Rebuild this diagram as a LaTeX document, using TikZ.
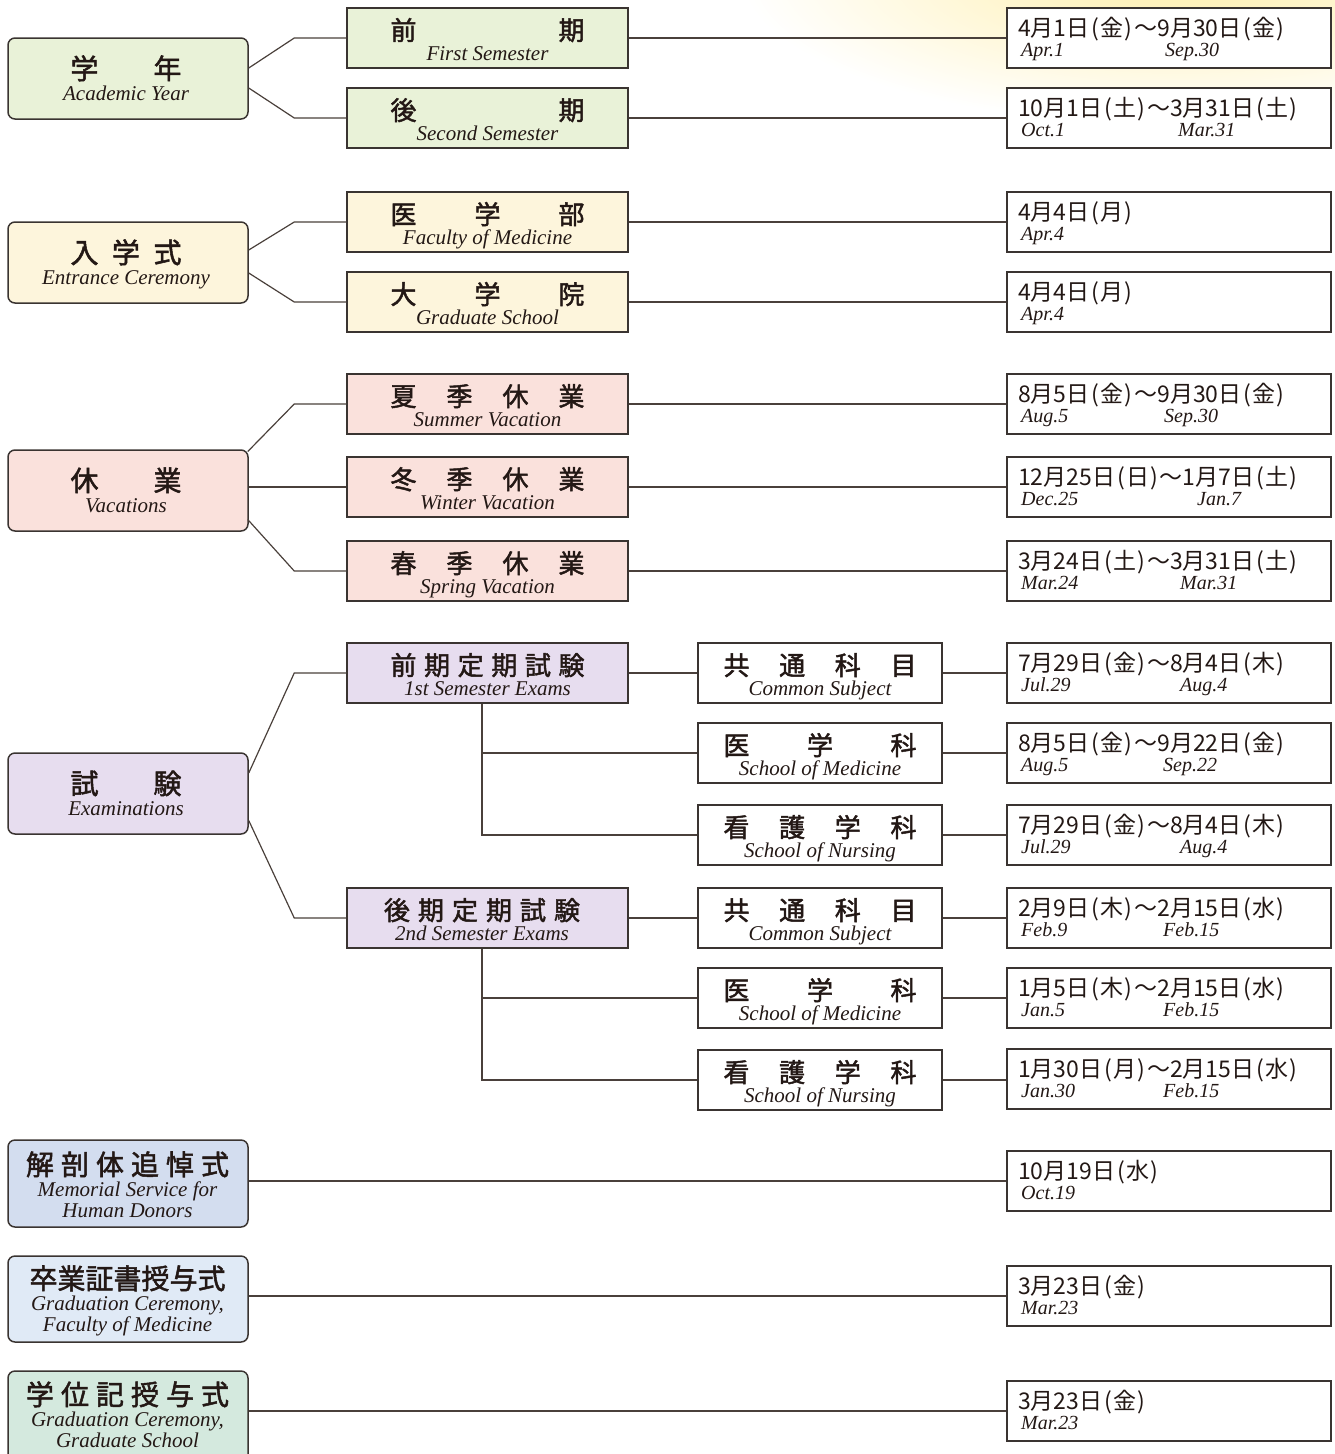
\documentclass[tikz,border=0pt]{standalone}
\usepackage{fontspec}
\setmainfont{Liberation Serif}
\newfontfamily\jpfont{Noto Sans CJK JP}
\newfontfamily\jpbold{Noto Sans CJK JP}[FakeBold=1.8]
\newfontfamily\enit{Liberation Serif Italic}
\definecolor{cAY}{HTML}{E9F2D8}
\definecolor{cEC}{HTML}{FDF5DC}
\definecolor{cVA}{HTML}{FAE1DC}
\definecolor{cEX}{HTML}{E7DDEF}
\definecolor{cMS}{HTML}{D3DDEF}
\definecolor{cGF}{HTML}{E0EAF6}
\definecolor{cGS}{HTML}{D4E9DE}
\definecolor{bordc}{HTML}{3A3431}
\definecolor{linec}{HTML}{4A403B}
\definecolor{txtc}{HTML}{231815}
\definecolor{glow}{HTML}{FFEFAC}
\newcommand\fJB{\jpbold\fontsize{26pt}{28pt}\selectfont}
\newcommand\fJL{\jpbold\fontsize{28pt}{30pt}\selectfont}
\newcommand\fEN{\enit\fontsize{21pt}{22pt}\selectfont}
\newcommand\fDT{\jpfont\fontsize{23pt}{25pt}\selectfont}
\newcommand\fDE{\enit\fontsize{20pt}{22pt}\selectfont}
\newcommand\spr[2]{\hbox to #1{#2}}
\newcommand\pz[1]{\kern2pt(\kern1pt #1\kern1pt)\kern2pt}
\newcommand\mbx[6]{%
 \node[mbox, fill=#3] (#1) at (487.5,#2+30) {};
 \node[jpb] (#1j) at (#4,#2+32) {#5};
 \node[en] (#1e) at (#4,#2+52) {#6};}
\newcommand\sbx[4]{%
 \node[mbox, fill=white, minimum width=244pt] (#1) at (820,#2+30) {};
 \node[jpb] (#1j) at (820,#2+32) {\spr{193pt}{#3}};
 \node[en] (#1e) at (820,#2+52) {#4};}
\newcommand\dbx[6]{%
 \node[dbox] (#1) at (1169,#2+30) {};
 \node[dt] (#1j) at (1018,#2+28) {#3};
 \node[dten] (#1a) at (1021,#2+48) {#4};
 \node[dten] (#1b) at (#6,#2+48) {#5};}
\newcommand\dbxs[4]{%
 \node[dbox] (#1) at (1169,#2+30) {};
 \node[dt] (#1j) at (1018,#2+28) {#3};
 \node[dten] (#1a) at (1021,#2+48) {#4};}
\begin{document}
\begin{tikzpicture}[x=1pt,y=-1pt,
 lbox/.style={draw=bordc, line width=1.5pt, rounded corners=7pt, minimum width=240pt, inner sep=0},
 mbox/.style={draw=bordc, line width=1.5pt, minimum width=281pt, minimum height=60pt, inner sep=0},
 dbox/.style={draw=bordc, line width=1.5pt, fill=white, minimum width=324pt, minimum height=60pt, inner sep=0},
 conn/.style={draw=linec, line width=1.2pt},
 jpb/.style={font=\fJB, text=txtc, inner sep=0, anchor=base},
 jpl/.style={font=\fJL, text=txtc, inner sep=0, anchor=base},
 en/.style={font=\fEN, text=txtc, inner sep=0, anchor=base},
 dt/.style={font=\fDT, text=txtc, inner sep=0, anchor=base west},
 dten/.style={font=\fDE, text=txtc, inner sep=0, anchor=base west}]
\clip (0,0) rectangle (1335,1454);
\shade[inner color=glow, outer color=white] (1180,-25) ellipse [x radius=440pt, y radius=150pt];

% ---- date boxes
\dbx{d1}{8}{4月1日\pz{金}～9月30日\pz{金}}{Apr.1}{Sep.30}{1165}
\dbx{d2}{88}{10月1日\pz{土}～3月31日\pz{土}}{Oct.1}{Mar.31}{1178}
\dbxs{d3}{192}{4月4日\pz{月}}{Apr.4}
\dbxs{d4}{272}{4月4日\pz{月}}{Apr.4}
\dbx{d5}{374}{8月5日\pz{金}～9月30日\pz{金}}{Aug.5}{Sep.30}{1164}
\dbx{d6}{457}{12月25日\pz{日}～1月7日\pz{土}}{Dec.25}{Jan.7}{1197}
\dbx{d7}{541}{3月24日\pz{土}～3月31日\pz{土}}{Mar.24}{Mar.31}{1180}
\dbx{d8}{643}{7月29日\pz{金}～8月4日\pz{木}}{Jul.29}{Aug.4}{1180}
\dbx{d9}{723}{8月5日\pz{金}～9月22日\pz{金}}{Aug.5}{Sep.22}{1163}
\dbx{d10}{805}{7月29日\pz{金}～8月4日\pz{木}}{Jul.29}{Aug.4}{1180}
\dbx{d11}{888}{2月9日\pz{木}～2月15日\pz{水}}{Feb.9}{Feb.15}{1163}
\dbx{d12}{968}{1月5日\pz{木}～2月15日\pz{水}}{Jan.5}{Feb.15}{1163}
\dbx{d13}{1049}{1月30日\pz{月}～2月15日\pz{水}}{Jan.30}{Feb.15}{1163}
\dbxs{d14}{1151}{10月19日\pz{水}}{Oct.19}
\dbxs{d15}{1266}{3月23日\pz{金}}{Mar.23}
\dbxs{d16}{1381}{3月23日\pz{金}}{Mar.23}

% ---- left boxes
\node[lbox, fill=cAY, minimum height=81pt] (ay) at (128,78.5) {};
\node[jpl] (ayj) at (126,79) {\spr{111pt}{学\hfill 年}};
\node[en] (aye) at (126,100) {Academic Year};

\node[lbox, fill=cEC, minimum height=81pt] (ec) at (128,262.5) {};
\node[jpl] (ecj) at (126,263) {\spr{111pt}{入\hfill 学\hfill 式}};
\node[en] (ece) at (126,284) {Entrance Ceremony};

\node[lbox, fill=cVA, minimum height=81pt] (va) at (128,490.5) {};
\node[jpl] (vaj) at (126,491) {\spr{111pt}{休\hfill 業}};
\node[en] (vae) at (126,512) {Vacations};

\node[lbox, fill=cEX, minimum height=81pt] (ex) at (128,793.5) {};
\node[jpl] (exj) at (126,794) {\spr{111pt}{試\hfill 験}};
\node[en] (exe) at (126,815) {Examinations};

\node[lbox, fill=cMS, minimum height=87pt] (ms) at (128,1183.5) {};
\node[jpl] (msj) at (127.5,1175) {\spr{203pt}{解\hfill 剖\hfill 体\hfill 追\hfill 悼\hfill 式}};
\node[en] (mse1) at (127.5,1196) {Memorial Service for};
\node[en] (mse2) at (127.5,1217) {Human Donors};

\node[lbox, fill=cGF, minimum height=86pt] (gf) at (128,1299) {};
\node[jpl] (gfj) at (127.5,1289) {\spr{196pt}{卒\hfill 業\hfill 証\hfill 書\hfill 授\hfill 与\hfill 式}};
\node[en] (gfe1) at (127.5,1310) {Graduation Ceremony,};
\node[en] (gfe2) at (127.5,1331) {Faculty of Medicine};

\node[lbox, fill=cGS, minimum height=92pt] (gg) at (128,1417) {};
\node[jpl] (ggj) at (127.5,1405) {\spr{203pt}{学\hfill 位\hfill 記\hfill 授\hfill 与\hfill 式}};
\node[en] (gge1) at (127.5,1426) {Graduation Ceremony,};
\node[en] (gge2) at (127.5,1447) {Graduate School};

% ---- middle boxes
\mbx{fs}{8}{cAY}{487.5}{\spr{194pt}{前\hfill 期}}{First Semester}
\mbx{ss}{88}{cAY}{487.5}{\spr{194pt}{後\hfill 期}}{Second Semester}
\mbx{fm}{192}{cEC}{487.5}{\spr{194pt}{医\hfill 学\hfill 部}}{Faculty of Medicine}
\mbx{gs}{272}{cEC}{487.5}{\spr{194pt}{大\hfill 学\hfill 院}}{Graduate School}
\mbx{sv}{374}{cVA}{487.5}{\spr{194pt}{夏\hfill 季\hfill 休\hfill 業}}{Summer Vacation}
\mbx{wv}{457}{cVA}{487.5}{\spr{194pt}{冬\hfill 季\hfill 休\hfill 業}}{Winter Vacation}
\mbx{pv}{541}{cVA}{487.5}{\spr{194pt}{春\hfill 季\hfill 休\hfill 業}}{Spring Vacation}
\mbx{ea}{643}{cEX}{487.5}{\spr{194pt}{前\hfill 期\hfill 定\hfill 期\hfill 試\hfill 験}}{1st Semester Exams}
\mbx{eb}{888}{cEX}{482}{\spr{196pt}{後\hfill 期\hfill 定\hfill 期\hfill 試\hfill 験}}{2nd Semester Exams}

% ---- sub boxes
\sbx{a1}{643}{共\hfill 通\hfill 科\hfill 目}{Common Subject}
\sbx{a2}{723}{医\hfill 学\hfill 科}{School of Medicine}
\sbx{a3}{805}{看\hfill 護\hfill 学\hfill 科}{School of Nursing}
\sbx{b1}{888}{共\hfill 通\hfill 科\hfill 目}{Common Subject}
\sbx{b2}{968}{医\hfill 学\hfill 科}{School of Medicine}
\sbx{b3}{1050}{看\hfill 護\hfill 学\hfill 科}{School of Nursing}

% ---- connectors
\draw[conn] ([yshift=10.5pt]ay.east) -- ([xshift=-52pt]fs.west) -- (fs.west);
\draw[conn] ([yshift=-9.5pt]ay.east) -- ([xshift=-52pt]ss.west) -- (ss.west);
\draw[conn] ([yshift=12.5pt]ec.east) -- ([xshift=-52pt]fm.west) -- (fm.west);
\draw[conn] ([yshift=-10.5pt]ec.east) -- ([xshift=-52pt]gs.west) -- (gs.west);
\draw[conn] ([xshift=-1pt,yshift=39pt]va.east) -- ([xshift=-52pt]sv.west) -- (sv.west);
\draw[conn] (wv.west -| va.east) -- (wv.west);
\draw[conn] ([xshift=-1pt,yshift=-29pt]va.east) -- ([xshift=-52pt]pv.west) -- (pv.west);
\draw[conn] ([yshift=20.5pt]ex.east) -- ([xshift=-52pt]ea.west) -- (ea.west);
\draw[conn] ([yshift=-27pt]ex.east) -- ([xshift=-52pt]eb.west) -- (eb.west);
\draw[conn] (ea.east) -- (a1.west);
\draw[conn] (eb.east) -- (b1.west);
\coordinate (va1) at ([xshift=-5.5pt]ea.south);
\coordinate (vb1) at ([xshift=-5.5pt]eb.south);
\draw[conn] (va1) |- (a2.west);
\draw[conn] (va1) |- (a3.west);
\draw[conn] (vb1) |- (b2.west);
\draw[conn] (vb1) |- (b3.west);
\foreach \s/\d in {fs/d1, ss/d2, fm/d3, gs/d4, sv/d5, wv/d6, pv/d7, a1/d8, a2/d9, a3/d10, b1/d11, b2/d12, b3/d13}
  \draw[conn] (\s.east) -- (\s.east -| \d.west);
\foreach \s/\d in {ms/d14, gf/d15, gg/d16}
  \draw[conn] (\d.west -| \s.east) -- (\d.west);
\end{tikzpicture}
\end{document}
